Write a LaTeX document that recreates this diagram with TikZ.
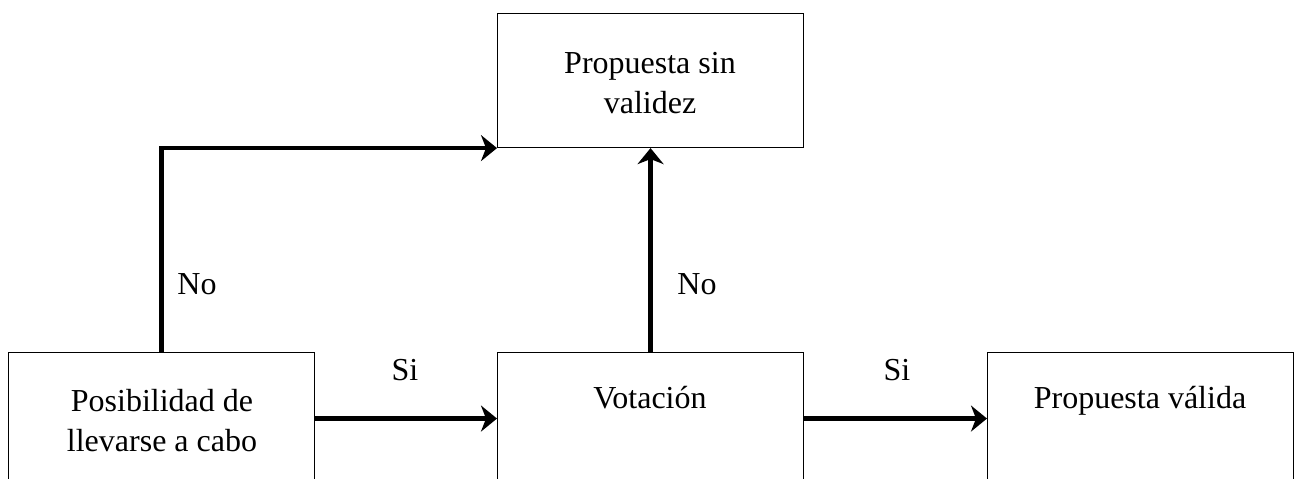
\documentclass[tikz,border=0pt]{standalone}
\usepackage{fontspec}
\setmainfont{Liberation Serif}
\usetikzlibrary{arrows.meta}
\begin{document}
\begin{tikzpicture}[x=1pt,y=-1pt,
  box/.style={draw, line width=1.1pt, minimum width=306pt, anchor=north west, inner sep=0pt},
  txt/.style={font=\fontsize{32}{40}\selectfont, align=center, inner sep=0pt},
  lbl/.style={font=\fontsize{32}{40}\selectfont, inner sep=0pt, anchor=base},
  flow/.style={line width=4.5pt, -{Stealth[length=16pt,width=26pt,inset=5pt]}}]
\useasboundingbox (0,0) rectangle (1298,479);
\clip (0,0) rectangle (1298,479);
\node[box, minimum height=134pt] (top) at (497,13) {};
\node[box, minimum height=132pt] (left) at (8,352) {};
\node[box, minimum height=132pt] (mid) at (497,352) {};
\node[box, minimum height=132pt] (right) at (987,352) {};
\node[txt] (toptxt) at (650,83) {Propuesta sin\\validez};
\node[txt] (lefttxt) at (162,421) {Posibilidad de\\llevarse a cabo};
\node[lbl] (midtxt) at (650,408) {Votación};
\node[lbl] (righttxt) at (1140,408) {Propuesta válida};
\draw[flow] (left.north) |- (top.south west);
\draw[flow] (mid.north) -- (top.south);
\draw[flow] (left.east) -- (mid.west);
\draw[flow] (mid.east) -- (right.west);
\node[lbl] (no1) at (197,294) {No};
\node[lbl] (no2) at (697,294) {No};
\node[lbl] (si1) at (405,380) {Si};
\node[lbl] (si2) at (897,380) {Si};
\end{tikzpicture}
\end{document}
